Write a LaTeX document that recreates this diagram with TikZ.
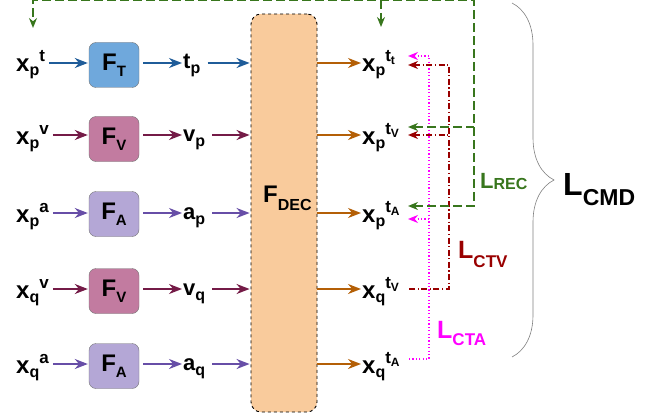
\documentclass[tikz,border=0pt]{standalone}
\usepackage{fontspec}
\setmainfont{Liberation Sans}
\usetikzlibrary{positioning, arrows.meta, decorations.pathreplacing}

\definecolor{tarrow}{HTML}{1F5C99}
\definecolor{tfill}{HTML}{6FA8DC}
\definecolor{varrow}{HTML}{741B47}
\definecolor{vfill}{HTML}{C27BA0}
\definecolor{aarrow}{HTML}{674EA7}
\definecolor{afill}{HTML}{B4A7D6}
\definecolor{decfill}{HTML}{F9CB9C}
\definecolor{decarrow}{HTML}{B45F06}
\definecolor{recgreen}{HTML}{38761D}
\definecolor{ctvred}{HTML}{990000}
\definecolor{ctamag}{HTML}{FF00FF}

\newcommand{\fs}[1]{\fontsize{#1}{#1}\selectfont}
\newcommand{\inp}[2]{{\fs{24}x}\raisebox{-4pt}{\fs{16}#1}\raisebox{10pt}{\fs{17}#2}}
\newcommand{\outp}[2]{{\fs{24}x}\raisebox{-4pt}{\fs{16}#1}\raisebox{10pt}{\fs{17}t\raisebox{-3pt}{\fs{12}#2}}}
\newcommand{\feat}[2]{{\fs{22}#1}\raisebox{-5pt}{\fs{16}#2}}
\newcommand{\enc}[1]{{\fs{24}F}\raisebox{-6pt}{\fs{15}#1}}

\begin{document}
\begin{tikzpicture}[
  x=1pt, y=-1pt, font=\bfseries,
  lbl/.style={inner sep=0pt, anchor=base west},
  enc/.style={draw=black!55, rounded corners=7pt, minimum width=50pt,
              minimum height=45pt, inner sep=0pt},
  flow/.style={-{Stealth[length=13pt, width=10pt]}, line width=1.6pt,
               shorten <=4pt, shorten >=1pt},
  loss/.style={line width=1.5pt},
  rec/.style={loss, recgreen, dash pattern=on 9pt off 4pt},
  ctv/.style={loss, ctvred, dash pattern=on 6pt off 2.5pt on 1.2pt off 2.5pt},
  cta/.style={loss, ctamag, dash pattern=on 1.2pt off 2.2pt},
  tipl/.style={{Stealth[length=10pt, width=8pt]}-},
  tipr/.style={-{Stealth[length=10pt, width=8pt]}},
]
\useasboundingbox (0,0) rectangle (647,417);

% rows
\coordinate (r1) at (0,63);
\coordinate (r2) at (0,135);
\coordinate (r3) at (0,213);
\coordinate (r4) at (0,289);
\coordinate (r5) at (0,364);

% decoder
\node[draw, dashed, line width=0.9pt, fill=decfill, rounded corners=10pt,
      minimum width=66pt, minimum height=398pt] (dec) at (284,213) {};
\node[lbl] (declbl) at (263,202) {{\fs{24}F}\raisebox{-8pt}{\fs{16}DEC}};

% inputs
\node[lbl] (xpt) at (16,72) {\inp{p}{t}};
\node[lbl] (xpv) at (16,144) {\inp{p}{v}};
\node[lbl] (xpa) at (16,222) {\inp{p}{a}};
\node[lbl] (xqv) at (16,298) {\inp{q}{v}};
\node[lbl] (xqa) at (16,373) {\inp{q}{a}};

% encoders
\node[enc, fill=tfill] (ft) at (114,65) {\enc{T}};
\node[enc, fill=vfill] (fv1) at (114,139) {\enc{V}};
\node[enc, fill=afill] (fa1) at (114,214) {\enc{A}};
\node[enc, fill=vfill] (fv2) at (114,291) {\enc{V}};
\node[enc, fill=afill] (fa2) at (114,366) {\enc{A}};

% features
\node[lbl] (tp) at (183,69) {\feat{t}{p}};
\node[lbl] (vp) at (183,141) {\feat{v}{p}};
\node[lbl] (ap) at (183,219) {\feat{a}{p}};
\node[lbl] (vq) at (183,295) {\feat{v}{q}};
\node[lbl] (aq) at (183,370) {\feat{a}{q}};

% outputs
\node[lbl] (opt) at (362,72) {\outp{p}{t}};
\node[lbl] (opv) at (362,144) {\outp{p}{V}};
\node[lbl] (opa) at (362,222) {\outp{p}{A}};
\node[lbl] (oqv) at (362,298) {\outp{q}{V}};
\node[lbl] (oqa) at (362,373) {\outp{q}{A}};

% text row
\draw[flow, tarrow] (xpt.east |- r1) -- (ft.west |- r1);
\draw[flow, tarrow] (ft.east |- r1) -- (tp.west |- r1);
\draw[flow, tarrow, shorten <=7pt] (tp.east |- r1) -- (dec.west |- r1);
% visual rows
\draw[flow, varrow] (xpv.east |- r2) -- (fv1.west |- r2);
\draw[flow, varrow] (fv1.east |- r2) -- (vp.west |- r2);
\draw[flow, varrow, shorten <=7pt] (vp.east |- r2) -- (dec.west |- r2);
\draw[flow, varrow] (xqv.east |- r4) -- (fv2.west |- r4);
\draw[flow, varrow] (fv2.east |- r4) -- (vq.west |- r4);
\draw[flow, varrow, shorten <=7pt] (vq.east |- r4) -- (dec.west |- r4);
% audio rows
\draw[flow, aarrow] (xpa.east |- r3) -- (fa1.west |- r3);
\draw[flow, aarrow] (fa1.east |- r3) -- (ap.west |- r3);
\draw[flow, aarrow, shorten <=7pt] (ap.east |- r3) -- (dec.west |- r3);
\draw[flow, aarrow] (xqa.east |- r5) -- (fa2.west |- r5);
\draw[flow, aarrow] (fa2.east |- r5) -- (aq.west |- r5);
\draw[flow, aarrow, shorten <=7pt] (aq.east |- r5) -- (dec.west |- r5);

% decoder outputs
\draw[flow, decarrow, shorten <=0pt] (dec.east |- r1) -- (opt.west |- r1);
\draw[flow, decarrow, shorten <=0pt] (dec.east |- r2) -- (opv.west |- r2);
\draw[flow, decarrow, shorten <=0pt] (dec.east |- r3) -- (opa.west |- r3);
\draw[flow, decarrow, shorten <=0pt] (dec.east |- r4) -- (oqv.west |- r4);
\draw[flow, decarrow, shorten <=0pt] (dec.east |- r5) -- (oqa.west |- r5);

% loss paths
\coordinate (tip) at (408,0);
\coordinate (cta1) at (429,56);
\coordinate (cta3) at (429,219);
\coordinate (cta5) at (429,359);
\coordinate (ctv1) at (449,65);
\coordinate (ctv2) at (449,135);
\coordinate (ctv4) at (449,289);
\coordinate (rec2) at (474,127);
\coordinate (rec3) at (474,206);
\coordinate (rectop) at (474,0);
\coordinate (recl) at (33,0);
\coordinate (recm) at (381,0);
\coordinate (recin) at (33,28);
\coordinate (recout) at (381,27);

\draw[cta, tipl] (tip |- cta1) -- (cta1) -- (cta5) -- (tip |- cta5);
\draw[cta, tipl] (tip |- cta3) -- (cta3);
\draw[ctv, tipl] (tip |- ctv1) -- (ctv1) -- (ctv4) -- (tip |- ctv4);
\draw[ctv, tipl] (tip |- ctv2) -- (ctv2);
\draw[rec, {Stealth[length=10pt, width=8pt]}-{Stealth[length=10pt, width=8pt]}]
  (tip |- rec3) -- (rec3) -- (rectop) -- (recl) -- (recin);
\draw[rec, tipl] (tip |- rec2) -- (rec2);
\draw[rec, tipr] (recm) -- (recout);

% loss labels
\node[lbl, text=recgreen] (lrec) at (480,188) {{\fs{22}L}\raisebox{-1pt}{\fs{16}REC}};
\node[lbl, text=ctvred] (lctv) at (458,258) {{\fs{25}L}\raisebox{-9pt}{\fs{17}CTV}};
\node[lbl, text=ctamag] (lcta) at (437,338) {{\fs{25}L}\raisebox{-7pt}{\fs{17}CTA}};

% total loss
\draw[gray, line width=0.6pt, decorate, decoration={brace, amplitude=42pt}]
  (512,3) -- (512,357);
\node[lbl] (lcmd) at (563,195) {{\fs{32}L}\raisebox{-10pt}{\fs{23}CMD}};

\end{tikzpicture}
\end{document}
